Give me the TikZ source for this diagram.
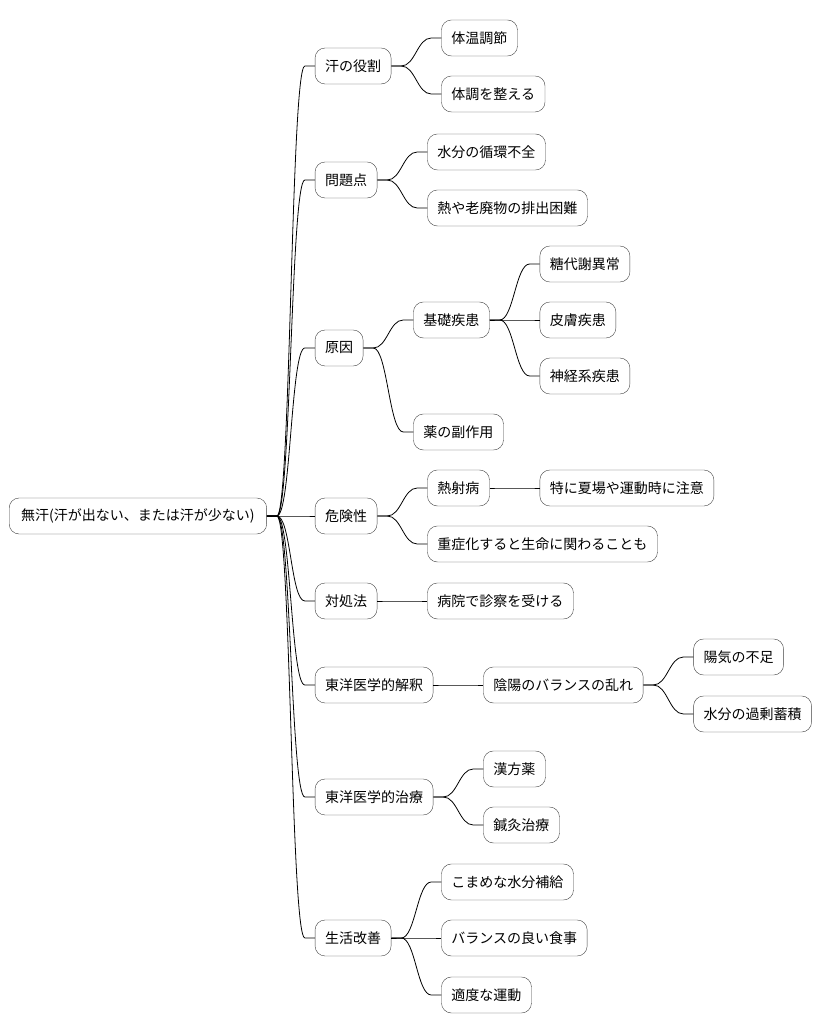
\documentclass[tikz,border=0pt]{standalone}
\usepackage{fontspec}
\setmainfont{Noto Sans CJK JP}
\usetikzlibrary{positioning}

\begin{document}
\begin{tikzpicture}[
  x=1pt, y=1pt,
  node distance=50pt,
  topic/.style={draw=black!75, rounded corners=10pt, fill=white, inner xsep=10pt, minimum height=36pt, font=\fontsize{14}{16}\selectfont},
  branch/.style={line width=.8pt, to path={-- ([xshift=10pt]\tikztostart.east) .. controls ([xshift=24pt]\tikztostart.east) and ([xshift=-24pt]\tikztotarget.west) .. ([xshift=-10pt]\tikztotarget.west) -- (\tikztotarget.west)}}
]
\useasboundingbox (0,0) rectangle (821,1034);
\node[topic, anchor=west, inner xsep=12pt] (root) at (9,518) {無汗(汗が出ない、または汗が少ない)};
% first level
\node[topic, right=48pt of root, yshift=450pt] (role) {汗の役割};
\node[topic, right=48pt of root, yshift=336pt] (issue) {問題点};
\node[topic, right=48pt of root, yshift=168pt] (cause) {原因};
\node[topic, right=48pt of root] (risk) {危険性};
\node[topic, right=48pt of root, yshift=-85pt] (remedy) {対処法};
\node[topic, right=48pt of root, yshift=-169pt] (theory) {東洋医学的解釈};
\node[topic, right=48pt of root, yshift=-281pt] (care) {東洋医学的治療};
\node[topic, right=48pt of root, yshift=-422pt] (life) {生活改善};
% second level
\node[topic, right=of role, yshift=28pt] (temp) {体温調節};
\node[topic, right=of role, yshift=-28pt] (tune) {体調を整える};
\node[topic, right=of issue, yshift=28pt] (water) {水分の循環不全};
\node[topic, right=of issue, yshift=-28pt] (waste) {熱や老廃物の排出困難};
\node[topic, right=of cause, yshift=28pt] (disease) {基礎疾患};
\node[topic, right=of cause, yshift=-84pt] (drug) {薬の副作用};
\node[topic, right=of risk, yshift=28pt] (heat) {熱射病};
\node[topic, right=of risk, yshift=-28pt] (fatal) {重症化すると生命に関わることも};
\node[topic, right=of remedy] (clinic) {病院で診察を受ける};
\node[topic, right=of theory] (yinyang) {陰陽のバランスの乱れ};
\node[topic, right=of care, yshift=28pt] (herb) {漢方薬};
\node[topic, right=of care, yshift=-28pt] (acu) {鍼灸治療};
\node[topic, right=of life, yshift=56pt] (drink) {こまめな水分補給};
\node[topic, right=of life] (meal) {バランスの良い食事};
\node[topic, right=of life, yshift=-57pt] (sport) {適度な運動};
% third level
\node[topic, right=of disease, yshift=56pt] (sugar) {糖代謝異常};
\node[topic, right=of disease] (skin) {皮膚疾患};
\node[topic, right=of disease, yshift=-56pt] (nerve) {神経系疾患};
\node[topic, right=of heat] (summer) {特に夏場や運動時に注意};
\node[topic, right=of yinyang, yshift=28pt] (yang) {陽気の不足};
\node[topic, right=of yinyang, yshift=-29pt] (excess) {水分の過剰蓄積};

\foreach \a/\b in {root/role, root/issue, root/cause, root/risk, root/remedy,
  root/theory, root/care, root/life, role/temp, role/tune, issue/water,
  issue/waste, cause/disease, cause/drug, risk/heat, risk/fatal,
  remedy/clinic, theory/yinyang, care/herb, care/acu, life/drink,
  life/meal, life/sport, disease/sugar, disease/skin, disease/nerve,
  heat/summer, yinyang/yang, yinyang/excess}
  \draw[branch] (\a) to (\b);
\end{tikzpicture}
\end{document}
